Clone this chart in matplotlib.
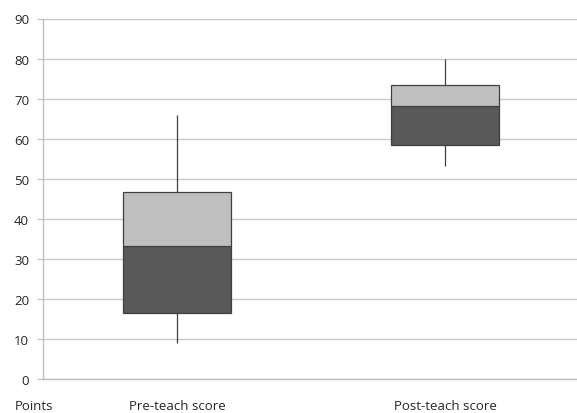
import matplotlib.pyplot as plt
from matplotlib.transforms import blended_transform_factory

categories = ["Pre-teach score", "Post-teach score"]
whisker_low = [9, 53.2]
q1 = [16.5, 58.5]
median = [33.1, 68.2]
q3 = [46.7, 73.3]
whisker_high = [66, 80]

plt.rcParams["font.family"] = ["Open Sans", "DejaVu Sans"]

fig = plt.figure(figsize=(5.77, 4.14), dpi=100)
ax = fig.add_axes([43 / 577, 34 / 414, 534 / 577, 360.5 / 414])

pos = list(range(len(categories)))

# whiskers behind the boxes
ax.vlines(pos, whisker_low, whisker_high, color="#404040", linewidth=0.9, zorder=2)

lower = [m - a for m, a in zip(median, q1)]
upper = [b - m for b, m in zip(q3, median)]
ax.bar(pos, lower, bottom=q1, width=0.4, color="#595959",
       edgecolor="#404040", linewidth=0.9, zorder=3)
ax.bar(pos, upper, bottom=median, width=0.4, color="#bfbfbf",
       edgecolor="#404040", linewidth=0.9, zorder=3)

ax.set_xlim(-0.5, 1.4925)
ax.set_ylim(0, 90)
ax.set_yticks(range(0, 91, 10))
ax.yaxis.grid(True, color="#c8c8c8", linewidth=1.0)
ax.set_axisbelow(True)

for s in ["top", "right"]:
    ax.spines[s].set_visible(False)
for s in ["left", "bottom"]:
    ax.spines[s].set_color("#bebebe")
    ax.spines[s].set_linewidth(1.0)

ax.tick_params(axis="y", length=4, color="#bebebe", labelsize=9.5, labelcolor="#262626", pad=6)
ax.set_xticks([])

# category labels sit well below the axis, level with "Points"
label_y = 1 - 407 / 414
trans = blended_transform_factory(ax.transData, fig.transFigure)
for p, name in zip(pos, categories):
    ax.text(p, label_y, name, transform=trans, ha="center", va="center",
            fontsize=9.5, color="#262626")

fig.text(33.5 / 577, label_y, "Points", ha="center", va="center",
         fontsize=9.5, color="#262626")

fig.savefig("out.png", dpi=100)
